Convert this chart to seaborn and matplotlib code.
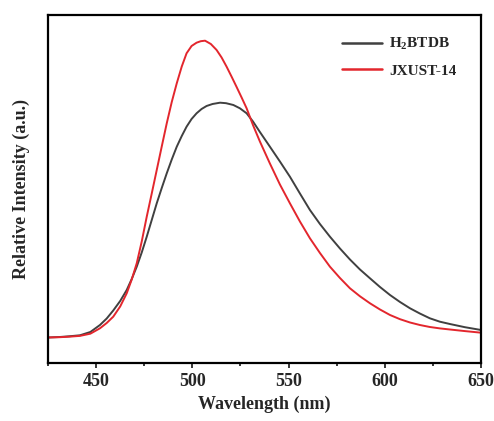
import matplotlib
matplotlib.use("Agg")
import matplotlib.pyplot as plt
from matplotlib.ticker import MultipleLocator
import pandas as pd
import seaborn as sns

# Emission spectra (relative intensity, a.u.)
wl_ligand = [425, 431.2, 436, 441.6, 447, 452, 455.5, 458.9, 462.5, 465.9,
             468.5, 471.1, 473.7, 476.3, 478.9, 481.5, 484.1, 486.7, 489.3,
             491.9, 494.5, 497, 499.6, 502.2, 504.8, 507.4, 510.5, 514.4,
             517.5, 521.3, 524.7, 528.2, 531.5, 535.1, 540.3, 545.5, 550.7,
             555.9, 561.1, 566.3, 571.5, 576.7, 581.9, 587.1, 592.3, 597.5,
             602.7, 607.9, 613.1, 618.2, 623.4, 628.6, 633.8, 641.6, 650]
int_ligand = [0, 0.5, 1.2, 2.2, 5.5, 12.5, 19, 27, 36.5, 47.5,
              58.5, 70.8, 85, 100.8, 117.5, 134.2, 149.5, 164.2, 178,
              190.8, 201.5, 210.8, 218.5, 224.2, 228.5, 231.5, 233.5, 234.8,
              234.3, 232.5, 229.2, 224.2, 216, 205.5, 190.8, 176, 160.8,
              144, 127.5, 113.5, 100.8, 89, 78, 68, 59.2, 50.5,
              42.5, 35.5, 29.2, 24, 19.2, 15.8, 13.5, 10.3, 7.5]

wl_mof = [425, 431.2, 436, 441.6, 447, 452, 455.5, 458.9, 462.5, 465.9,
          468.5, 471.1, 473.7, 476.3, 478.9, 481.5, 484.1, 486.7, 489.3,
          491.9, 494.5, 497, 499.6, 502.2, 504.4, 506.6, 509.6, 512.6, 515.2,
          517.8, 520.4, 523, 525.6, 528.2, 531.6, 535.1, 540.3, 545.5, 550.7,
          555.9, 561.1, 566.3, 571.5, 576.7, 581.9, 587.1, 592.3, 597.5,
          602.7, 607.9, 613.1, 618.2, 623.4, 628.6, 633.8, 641.6, 650]
int_mof = [0, 0.3, 0.8, 1.6, 3.8, 9.2, 14.5, 20.8, 31, 44.2,
           58, 74.2, 96, 120.8, 144, 167.5, 191, 214.2, 235.5,
           254.2, 271, 284.2, 291.5, 294.8, 296.3, 296.8, 293.5, 287.5, 280,
           270.8, 260.8, 250.5, 240, 229.2, 212, 196, 174, 153, 134.2,
           116, 99.2, 84.5, 70.8, 59.5, 49.2, 41.2, 34.2, 28, 22.5,
           18.3, 15, 12.5, 10.5, 9.1, 8, 6.4, 4.8]

labels = ["H$_2$BTDB", "JXUST-14"]
colors = ["#404040", "#e3262d"]

df = pd.concat([
    pd.DataFrame({"Wavelength": wl_ligand, "Intensity": int_ligand, "Sample": labels[0]}),
    pd.DataFrame({"Wavelength": wl_mof, "Intensity": int_mof, "Sample": labels[1]}),
], ignore_index=True)

sns.set_style("ticks")
plt.rcParams["font.family"] = ["Liberation Serif", "DejaVu Serif"]
plt.rcParams["font.weight"] = "bold"
plt.rcParams["mathtext.fontset"] = "custom"
plt.rcParams["mathtext.rm"] = "Liberation Serif:bold"
plt.rcParams["mathtext.it"] = "Liberation Serif:bold"
plt.rcParams["mathtext.bf"] = "Liberation Serif:bold"

fig = plt.figure(figsize=(4.94, 4.21), dpi=100)
ax = fig.add_axes([0.0972, 0.1378, 0.8765, 0.8266])

sns.lineplot(data=df, x="Wavelength", y="Intensity", hue="Sample",
             palette=dict(zip(labels, colors)), linewidth=1.4, ax=ax,
             sort=True, estimator=None)

ax.set_xlim(425, 650)
ax.set_ylim(-25.5, 322.5)
ax.xaxis.set_major_locator(MultipleLocator(50))
ax.xaxis.set_minor_locator(MultipleLocator(25))
ax.tick_params(axis="x", which="major", direction="out", length=3.5, width=1.3,
               labelsize=13, pad=4)
ax.tick_params(axis="x", which="minor", direction="out", length=2.5, width=1.3)
ax.set_yticks([])
for s in ax.spines.values():
    s.set_visible(True)
    s.set_linewidth(1.6)
    s.set_color("black")
for t in ax.get_xticklabels():
    t.set_fontweight("bold")

ax.set_xlabel("Wavelength (nm)", fontsize=13, fontweight="bold", labelpad=4)
ax.set_ylabel("Relative Intensity (a.u.)", fontsize=13, fontweight="bold", labelpad=13)

leg = ax.legend(loc="upper right", bbox_to_anchor=(0.975, 0.978), frameon=False,
                fontsize=11, handlelength=2.6, handletextpad=0.5,
                labelspacing=0.75)
for line in leg.get_lines():
    line.set_linewidth(1.8)
for t in leg.get_texts():
    t.set_fontweight("bold")

fig.savefig("out.png", dpi=100)
